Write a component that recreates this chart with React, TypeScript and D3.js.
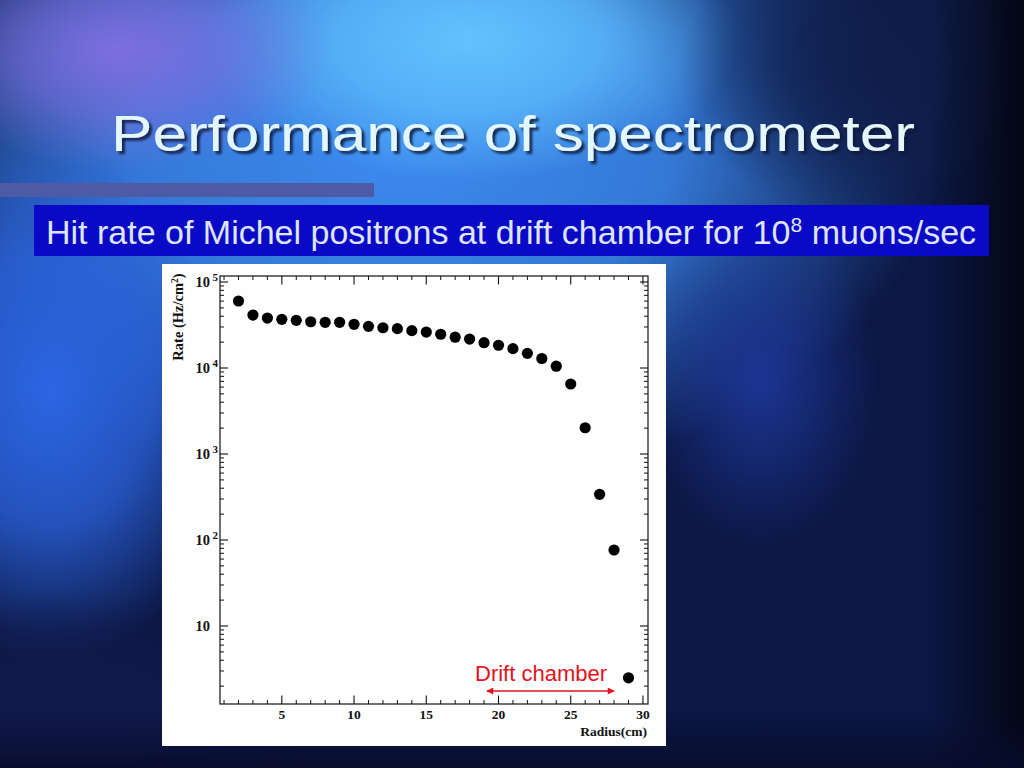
import React from "react";
import * as d3 from "d3";

// ---- data ----
const radius = [2, 3, 4, 5, 6, 7, 8, 9, 10, 11, 12, 13, 14, 15, 16, 17, 18, 19, 20, 21, 22, 23, 24, 25, 26, 27, 28, 29];
const rate = [60100, 41300, 38100, 36800, 35800, 34500, 34000, 34000, 32200, 30500, 29400, 28700, 27200, 26200, 24700, 22800, 21700, 19700, 18400, 16800, 14800, 12900, 10500, 6520, 2020, 340, 76.5, 2.5];
const xMajorTicks = [5, 10, 15, 20, 25, 30];
const xMinorTicks = [1, 2, 3, 4, 6, 7, 8, 9, 11, 12, 13, 14, 16, 17, 18, 19, 21, 22, 23, 24, 26, 27, 28, 29];
const yMajorTicks = [10, 100, 1000, 10000, 100000];
const yMajorExp = ["", "2", "3", "4", "5"];
const driftRange = [19.2, 28];

const title = "Performance of spectrometer";
const subtitleMain = "Hit rate of Michel positrons at drift chamber for 10";
const subtitleSup = "8";
const subtitleEnd = " muons/sec";

type Glow = { id: string; cx: number; cy: number; rx: number; ry: number; color: string; mid: number };
const glows: Glow[] = [
  { id: "g1", cx: 400, cy: 150, rx: 540, ry: 340, color: "#3c8af0", mid: 0.85 },
  { id: "g2", cx: 50, cy: 390, rx: 200, ry: 270, color: "#2c66e4", mid: 0.75 },
  { id: "g3", cx: 470, cy: 40, rx: 270, ry: 140, color: "#62c2ff", mid: 0.7 },
  { id: "g4", cx: 120, cy: 50, rx: 210, ry: 120, color: "#7e6ee0", mid: 0.6 },
  { id: "g5", cx: 760, cy: 380, rx: 120, ry: 170, color: "#1c3594", mid: 0.5 },
  { id: "g6", cx: 60, cy: 740, rx: 240, ry: 150, color: "#121a4e", mid: 0.8 },
  { id: "g7", cx: 900, cy: 70, rx: 220, ry: 160, color: "#0f1d4a", mid: 0.7 },
];

export default function App() {
  React.useEffect(() => {
    document.body.style.margin = "0";
  }, []);

  const L = 220, R = 648, T = 276, B = 704;
  const x = d3.scaleLinear().domain([0.72, 30.35]).range([L, R]);
  const y = d3.scaleLog().domain([1.239, 117450]).range([B, T]);
  const yAll = y.ticks().filter((v) => v >= 1.239 && v <= 117450);
  const yMinor = yAll.filter((v) => !yMajorTicks.includes(v));

  const serif = "'Liberation Serif', 'Times New Roman', serif";
  const sans = "'Liberation Sans', Arial, sans-serif";
  const red = "#e3121c";

  return (
    <svg width={1024} height={768} style={{ position: "fixed", left: 0, top: 0, display: "block" }}>
      <defs>
        {glows.map((g) => (
          <radialGradient key={g.id} id={g.id}>
            <stop offset="0" stopColor={g.color} stopOpacity={1} />
            <stop offset="0.5" stopColor={g.color} stopOpacity={g.mid} />
            <stop offset="1" stopColor={g.color} stopOpacity={0} />
          </radialGradient>
        ))}
        <linearGradient id="edgeR" x1="0" x2="1" y1="0" y2="0">
          <stop offset="0" stopColor="#02040f" stopOpacity={0} />
          <stop offset="1" stopColor="#02040f" stopOpacity={0.9} />
        </linearGradient>
        <linearGradient id="edgeB" x1="0" x2="0" y1="0" y2="1">
          <stop offset="0" stopColor="#070c2c" stopOpacity={0} />
          <stop offset="1" stopColor="#070c2c" stopOpacity={0.9} />
        </linearGradient>
        <filter id="sh" x="-5%" y="-30%" width="110%" height="160%">
          <feDropShadow dx={3} dy={3} stdDeviation={1.2} floodColor="#0a1238" floodOpacity={0.85} />
        </filter>
        <marker id="ah" viewBox="0 0 10 10" refX={9} refY={5} markerWidth={9} markerHeight={7} markerUnits="userSpaceOnUse" orient="auto-start-reverse">
          <path d="M0,0 L10,5 L0,10 z" fill={red} />
        </marker>
      </defs>

      {/* background nebula */}
      <rect x={0} y={0} width={1024} height={768} fill="#0c1744" />
      {glows.map((g) => (
        <ellipse key={"e" + g.id} cx={g.cx} cy={g.cy} rx={g.rx} ry={g.ry} fill={`url(#${g.id})`} />
      ))}
      <rect x={930} y={0} width={94} height={768} fill="url(#edgeR)" />
      <rect x={0} y={710} width={1024} height={58} fill="url(#edgeB)" />

      {/* title */}
      <text x={111} y={151} fontFamily={sans} fontSize={50} textLength={804} lengthAdjust="spacingAndGlyphs" fill="#e4f7ff" filter="url(#sh)">{title}</text>
      <rect x={0} y={183} width={374} height={14} fill="#4d5aa6" />

      {/* subtitle box */}
      <rect x={34} y={205} width={955} height={51} fill="#0909c6" />
      <text x={46} y={244} fontFamily={sans} fontSize={34} fill="#dfe4ff">
        {subtitleMain}
        <tspan fontSize={21} dy={-12}>{subtitleSup}</tspan>
        <tspan fontSize={34} dy={12}>{subtitleEnd}</tspan>
      </text>

      {/* white panel */}
      <rect x={162} y={264} width={504} height={482} fill="#fefefe" />

      {/* frame */}
      <rect x={L} y={T} width={R - L} height={B - T} fill="none" stroke="#111" strokeWidth={1.2} />

      {/* x ticks */}
      {xMajorTicks.map((t) => (
        <g key={"xM" + t}>
          <line x1={x(t)} x2={x(t)} y1={B} y2={B - 8.5} stroke="#111" strokeWidth={1.1} />
          <line x1={x(t)} x2={x(t)} y1={T} y2={T + 8.5} stroke="#111" strokeWidth={1.1} />
          <text x={x(t)} y={719} textAnchor="middle" fontFamily={serif} fontWeight="bold" fontSize={13.5} fill="#111">{t}</text>
        </g>
      ))}
      {xMinorTicks.map((t) => (
        <g key={"xm" + t}>
          <line x1={x(t)} x2={x(t)} y1={B} y2={B - 4} stroke="#111" strokeWidth={1} />
          <line x1={x(t)} x2={x(t)} y1={T} y2={T + 4} stroke="#111" strokeWidth={1} />
        </g>
      ))}
      <text x={647} y={736} textAnchor="end" fontFamily={serif} fontWeight="bold" fontSize={13.5} fill="#111">Radius(cm)</text>

      {/* y ticks */}
      {yMajorTicks.map((t, i) => (
        <g key={"yM" + t}>
          <line x1={L} x2={L + 8} y1={y(t)} y2={y(t)} stroke="#111" strokeWidth={1.1} />
          <line x1={R} x2={R - 8} y1={y(t)} y2={y(t)} stroke="#111" strokeWidth={1.1} />
          <text x={210} y={y(t) + 5} textAnchor="end" fontFamily={serif} fontWeight="bold" fontSize={14.5} fill="#111">10</text>
          {yMajorExp[i] && (
            <text x={212.5} y={y(t) - 1} fontFamily={serif} fontWeight="bold" fontSize={11} fill="#111">{yMajorExp[i]}</text>
          )}
        </g>
      ))}
      {yMinor.map((t) => (
        <g key={"ym" + t}>
          <line x1={L} x2={L + 4} y1={y(t)} y2={y(t)} stroke="#111" strokeWidth={1} />
          <line x1={R} x2={R - 4} y1={y(t)} y2={y(t)} stroke="#111" strokeWidth={1} />
        </g>
      ))}
      <text transform="translate(183,317) rotate(-90)" textAnchor="middle" fontFamily={serif} fontWeight="bold" fontSize={14.5} fill="#111">
        Rate (Hz/cm<tspan fontSize={9.5} dy={-5.5}>2</tspan><tspan dy={5.5}>)</tspan>
      </text>

      {/* data points */}
      {radius.map((r, i) => (
        <circle key={"p" + r} cx={x(r)} cy={y(rate[i])} r={5.6} fill="#000" />
      ))}

      {/* drift chamber annotation */}
      <line x1={x(driftRange[0])} x2={x(driftRange[1])} y1={B - 13} y2={B - 13} stroke={red} strokeWidth={1.6} markerStart="url(#ah)" markerEnd="url(#ah)" />
      <text x={x(driftRange[1]) - 7} y={681} textAnchor="end" fontFamily={sans} fontSize={22} fill={red}>Drift chamber</text>
    </svg>
  );
}
